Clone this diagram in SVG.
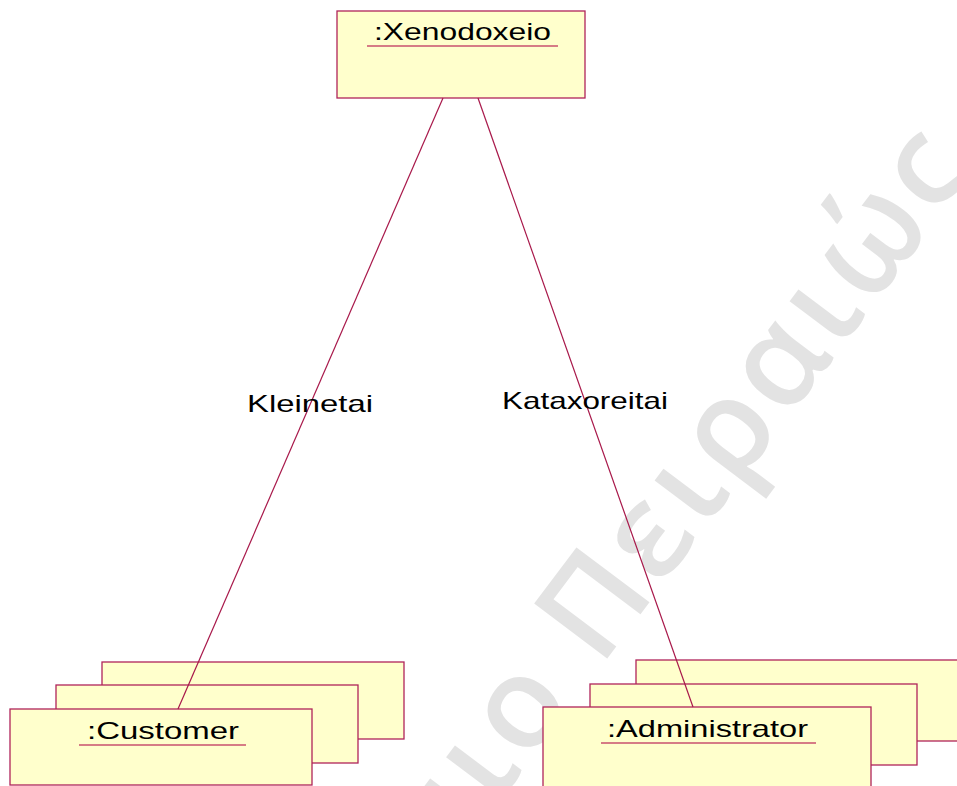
<svg xmlns="http://www.w3.org/2000/svg" width="957" height="786" viewBox="0 0 957 786">
<style>
.box{fill:#ffffcc;stroke:#b0245a;stroke-width:1.3}
.ul{stroke:#c8506e;stroke-width:1.5}
.lbl{font-family:"Liberation Sans",Arial,sans-serif;font-size:24px;fill:#000}
.edge{stroke:#a8184a;stroke-width:1.2;fill:none}
.wm{font-family:"Open Sans","Noto Sans",sans-serif;font-size:128px;font-weight:600;fill:#e3e3e3;letter-spacing:6px}
</style>
<rect width="957" height="786" fill="#fff"/>
<g id="watermark" transform="translate(600,668) rotate(-53)">
<text class="wm" x="0" y="0">Πειραιώς</text>
<text class="wm" x="-36" y="0" text-anchor="end">Πανεπιστήμιο</text>
</g>
<g id="xenodoxeio">
<rect class="box" x="337" y="11" width="248" height="87"/>
<text class="lbl" x="374" y="40" textLength="177" lengthAdjust="spacingAndGlyphs">:Xenodoxeio</text>
<line class="ul" x1="367" y1="46" x2="558" y2="46"/>
</g>
<g id="customer">
<rect class="box" x="102" y="662" width="302" height="77"/>
<rect class="box" x="56" y="685" width="302" height="78"/>
<rect class="box" x="10" y="709" width="302" height="76"/>
<text class="lbl" x="87" y="739" textLength="152" lengthAdjust="spacingAndGlyphs">:Customer</text>
<line class="ul" x1="79" y1="745" x2="246" y2="745"/>
</g>
<g id="administrator">
<rect class="box" x="636" y="660" width="330" height="81"/>
<rect class="box" x="590" y="684" width="327" height="81"/>
<rect class="box" x="543" y="707" width="328" height="85"/>
<text class="lbl" x="607" y="737" textLength="201" lengthAdjust="spacingAndGlyphs">:Administrator</text>
<line class="ul" x1="601" y1="743" x2="816" y2="743"/>
</g>
<g id="connectors">
<line class="edge" x1="443" y1="98" x2="178" y2="709"/>
<line class="edge" x1="478" y1="98" x2="693" y2="707"/>
<text class="lbl" x="247" y="412" textLength="126" lengthAdjust="spacingAndGlyphs">Kleinetai</text>
<text class="lbl" x="502" y="409" textLength="166" lengthAdjust="spacingAndGlyphs">Kataxoreitai</text>
</g>
</svg>
